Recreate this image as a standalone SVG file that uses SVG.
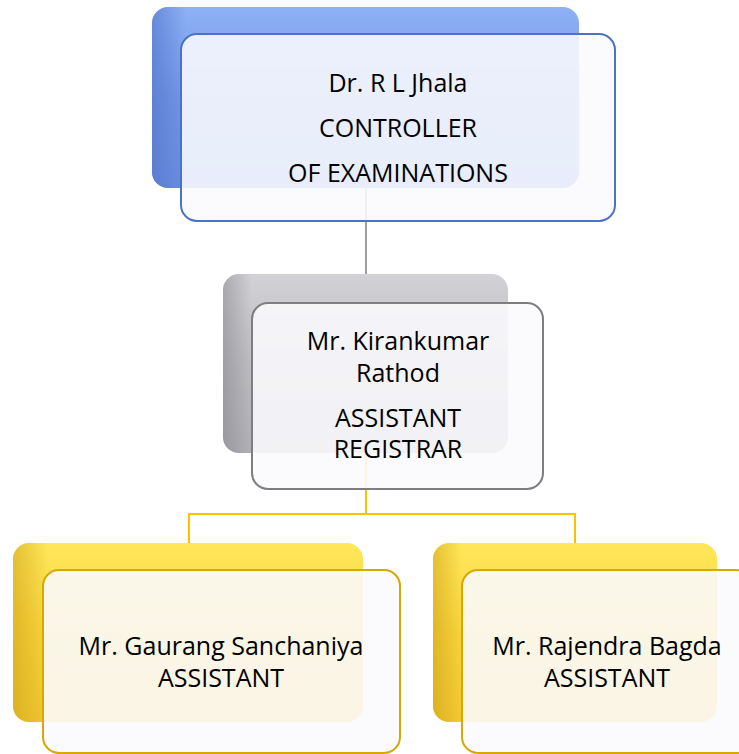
<svg xmlns="http://www.w3.org/2000/svg" width="739" height="754" viewBox="0 0 739 754">
<defs>
<linearGradient id="gBlue" x1="0" y1="0" x2="0" y2="1"><stop offset="0" stop-color="#8db0f6"/><stop offset="0.5" stop-color="#7397e6"/><stop offset="1" stop-color="#6a8ee0"/></linearGradient>
<linearGradient id="gBlueL" x1="0" y1="0" x2="1" y2="0"><stop offset="0" stop-color="#4f72c8" stop-opacity="0.6"/><stop offset="0.08" stop-color="#4f72c8" stop-opacity="0"/></linearGradient>
<linearGradient id="gGray" x1="0" y1="0" x2="0" y2="1"><stop offset="0" stop-color="#d2d2d6"/><stop offset="0.5" stop-color="#bcbcc1"/><stop offset="1" stop-color="#b0b0b6"/></linearGradient>
<linearGradient id="gGrayL" x1="0" y1="0" x2="1" y2="0"><stop offset="0" stop-color="#808086" stop-opacity="0.5"/><stop offset="0.1" stop-color="#808086" stop-opacity="0"/></linearGradient>
<linearGradient id="gYel" x1="0" y1="0" x2="0" y2="1"><stop offset="0" stop-color="#ffe75a"/><stop offset="0.5" stop-color="#f8d33c"/><stop offset="1" stop-color="#f0c832"/></linearGradient>
<linearGradient id="gYelL" x1="0" y1="0" x2="1" y2="0"><stop offset="0" stop-color="#c89a10" stop-opacity="0.5"/><stop offset="0.1" stop-color="#c89a10" stop-opacity="0"/></linearGradient>
</defs>
<style>
text{font-family:"Open Sans",Lato,"Liberation Sans",sans-serif;font-size:25px;fill:#000;text-anchor:middle}
.front{fill:#fbfbfe;fill-opacity:0.88;stroke-width:2}
.cb{fill:none;stroke-width:2}
</style>
<g id="connectors">
<line x1="366" y1="188" x2="366" y2="274" stroke="#a0a0a4" stroke-width="2"/>
<polyline class="cb" stroke="#ffc000" points="366,453 366,514"/>
<polyline class="cb" stroke="#ffc000" points="189,543 189,514 575,514 575,543"/>
</g>
<g id="node-controller">
<rect x="152" y="7" width="427" height="181" rx="16" fill="url(#gBlue)"/>
<rect x="152" y="7" width="427" height="181" rx="16" fill="url(#gBlueL)"/>
<rect class="front" x="181" y="34" width="434" height="187" rx="16" stroke="#4a72c8"/>
<text x="398" y="92">Dr. R L Jhala</text>
<text x="398" y="137">CONTROLLER</text>
<text x="398" y="182">OF EXAMINATIONS</text>
</g>
<g id="node-registrar">
<rect x="223" y="274" width="285" height="179" rx="16" fill="url(#gGray)"/>
<rect x="223" y="274" width="285" height="179" rx="16" fill="url(#gGrayL)"/>
<rect class="front" x="252" y="303" width="291" height="186" rx="16" stroke="#7d7d82"/>
<text x="398" y="350">Mr. Kirankumar</text>
<text x="398" y="382">Rathod</text>
<text x="398" y="427">ASSISTANT</text>
<text x="398" y="458">REGISTRAR</text>
</g>
<g id="node-gaurang">
<rect x="13" y="543" width="350" height="179" rx="16" fill="url(#gYel)"/>
<rect x="13" y="543" width="350" height="179" rx="16" fill="url(#gYelL)"/>
<rect class="front" x="43" y="570" width="357" height="183" rx="16" stroke="#d9a800"/>
<text x="221" y="655">Mr. Gaurang Sanchaniya</text>
<text x="221" y="687">ASSISTANT</text>
</g>
<g id="node-rajendra">
<rect x="433" y="543" width="284" height="179" rx="16" fill="url(#gYel)"/>
<rect x="433" y="543" width="284" height="179" rx="16" fill="url(#gYelL)"/>
<rect class="front" x="462" y="570" width="290" height="183" rx="16" stroke="#d9a800"/>
<text x="607" y="655">Mr. Rajendra Bagda</text>
<text x="607" y="687">ASSISTANT</text>
</g>
</svg>
